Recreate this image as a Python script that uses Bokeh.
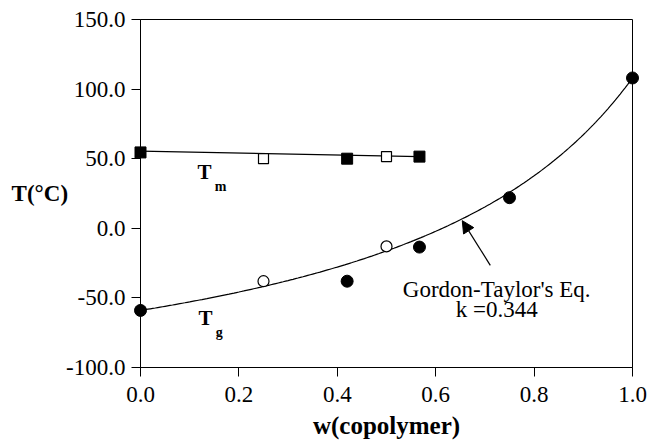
import numpy as np
from bokeh.plotting import figure
from bokeh.models import Range1d, Label, Arrow, NormalHead, NumeralTickFormatter, FixedTicker
from bokeh.embed import file_html
from bokeh.resources import INLINE

# ---- data ----
tm_filled_w = [0.0, 0.42, 0.567]
tm_filled_T = [54.5, 50.0, 51.5]
tm_open_w = [0.25, 0.5]
tm_open_T = [50.0, 51.5]
tm_fit_w = [0.0, 0.567]
tm_fit_T = [55.5, 51.5]

tg_filled_w = [0.0, 0.42, 0.567, 0.75, 1.0]
tg_filled_T = [-59.0, -38.0, -13.5, 22.0, 108.0]
tg_open_w = [0.25, 0.5]
tg_open_T = [-38.0, -13.0]

k_gt = 0.344          # Gordon-Taylor parameter shown on the chart
tg_w0 = -59.0         # Tg at w = 0
tg_w1 = 108.0         # Tg at w = 1

x_ticks = [0.0, 0.2, 0.4, 0.6, 0.8, 1.0]
y_ticks = [-100, -50, 0, 50, 100, 150]

# Gordon-Taylor curve
gt_w = np.linspace(0.0, 1.0, 201)
gt_T = ((1 - gt_w) * tg_w0 + k_gt * gt_w * tg_w1) / ((1 - gt_w) + k_gt * gt_w)

SERIF = "Liberation Serif"

p = figure(width=649, height=444, output_backend="svg", toolbar_location=None,
           x_range=Range1d(0, 1), y_range=Range1d(-100, 150),
           min_border_left=140, min_border_right=17, min_border_top=19, min_border_bottom=77)
p.background_fill_color = "white"
p.border_fill_color = "white"
p.outline_line_color = "black"
p.outline_line_width = 1
p.grid.visible = False

for ax in (p.xaxis[0], p.yaxis[0]):
    ax.axis_line_color = "black"
    ax.major_tick_line_color = "black"
    ax.minor_tick_line_color = None
    ax.major_tick_in = 0
    ax.major_tick_out = 9
    ax.major_label_text_font = SERIF
    ax.major_label_text_font_size = "23px"
    ax.major_label_text_color = "black"
    ax.axis_label_text_color = "black"
    ax.formatter = NumeralTickFormatter(format="0.0")

p.xaxis[0].ticker = FixedTicker(ticks=x_ticks)
p.yaxis[0].ticker = FixedTicker(ticks=y_ticks)
p.xaxis[0].major_label_standoff = 10
p.yaxis[0].major_label_standoff = 6
p.xaxis[0].axis_label = "w(copolymer)"
p.xaxis[0].axis_label_text_font = SERIF
p.xaxis[0].axis_label_text_font_style = "bold"
p.xaxis[0].axis_label_text_font_size = "25px"
p.xaxis[0].axis_label_standoff = 7

ylab_done = False
try:
    p.yaxis[0].axis_label_orientation = "horizontal"
    p.yaxis[0].axis_label = "T(°C)"
    p.yaxis[0].axis_label_text_font = SERIF
    p.yaxis[0].axis_label_text_font_style = "bold"
    p.yaxis[0].axis_label_text_font_size = "23px"
    p.yaxis[0].axis_label_standoff = -5
    ylab_done = True
except Exception:
    ylab_done = False

# Tm
p.line(tm_fit_w, tm_fit_T, line_color="black", line_width=1.2)
p.scatter(tm_filled_w, tm_filled_T, marker="square", size=11, fill_color="black",
          line_color="black", level="overlay")
p.scatter(tm_open_w, tm_open_T, marker="square", size=10, fill_color="white",
          line_color="black", line_width=1.2, level="overlay")

# Tg
p.line(gt_w, gt_T, line_color="black", line_width=1.2)
p.scatter(tg_filled_w, tg_filled_T, marker="circle", size=12, fill_color="black",
          line_color="black", level="overlay")
p.scatter(tg_open_w, tg_open_T, marker="circle", size=11, fill_color="white",
          line_color="black", line_width=1.2, level="overlay")

# annotations
p.add_layout(Arrow(end=NormalHead(size=12, fill_color="black", line_color="black"),
                   x_start=0.711, y_start=-26.6, x_end=0.654, y_end=5.5,
                   line_color="black", line_width=1.2))

def lab(x, y, t, size, bold=False, align="center", units="data"):
    p.add_layout(Label(x=x, y=y, text=t, text_font=SERIF, text_font_size=size,
                       text_font_style="bold" if bold else "normal",
                       x_units=units, y_units=units,
                       text_align=align, text_baseline="middle", text_color="black"))

lab(0.724, -43.9, "Gordon-Taylor's Eq.", "23px")
lab(0.724, -58.3, "k =0.344", "23px")
lab(0.130, 40.3, "T", "21px", bold=True)
lab(0.163, 30.2, "m", "14px", bold=True)
lab(0.132, -64.7, "T", "21px", bold=True)
lab(0.160, -74.5, "g", "14px", bold=True)
if not ylab_done:
    lab(-0.199, 28.1, "T(°C)", "23px", bold=True)

open("out.html", "w").write(file_html(p, INLINE))
